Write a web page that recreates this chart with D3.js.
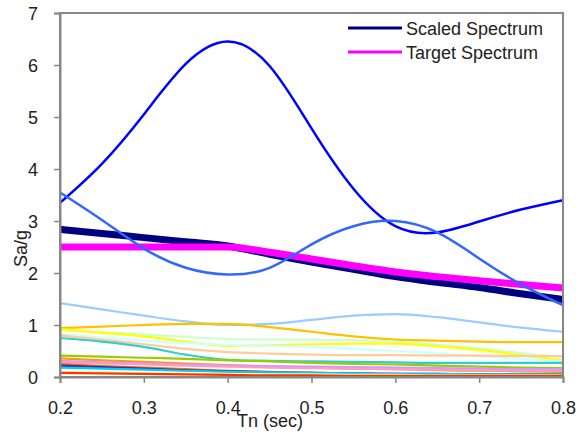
<!DOCTYPE html>
<html>
<head>
<meta charset="utf-8">
<script src="https://cdnjs.cloudflare.com/ajax/libs/d3/7.8.5/d3.min.js"></script>
<style>
    body { margin: 0; background: #fff; }
    svg { font-family: "Liberation Sans", Arial, sans-serif; }
    .tick text { font-size: 18px; fill: #222; }
</style>
</head>
<body>
<svg width="583" height="436"></svg>
<script>
var periods = [0.2, 0.25, 0.3, 0.35, 0.4, 0.45, 0.5, 0.55, 0.6, 0.65, 0.7, 0.75, 0.8];
var xTicks = [0.2, 0.3, 0.4, 0.5, 0.6, 0.7, 0.8];
var yTicks = [0, 1, 2, 3, 4, 5, 6, 7];

// individual records (thin lines)
var recordColors = ["#99CCFF", "#FFC000", "#CCFFCC", "#FFFF00", "#CCFFFF", "#FFCC99", "#33CCCC", "#99CC00",
    "#FF9900", "#CC99FF", "#FF99CC", "#FF6600", "#333399", "#00CCFF", "#FFFF99", "#FF3300"];
var recordValues = [
    [1.42, 1.30, 1.18, 1.07, 1.00, 1.02, 1.10, 1.18, 1.21, 1.15, 1.05, 0.95, 0.87],
    [0.94, 0.97, 1.00, 1.02, 1.02, 0.96, 0.87, 0.78, 0.72, 0.70, 0.68, 0.67, 0.67],
    [0.90, 0.86, 0.82, 0.77, 0.73, 0.72, 0.72, 0.71, 0.68, 0.62, 0.55, 0.46, 0.38],
    [0.92, 0.85, 0.78, 0.68, 0.60, 0.61, 0.63, 0.64, 0.64, 0.59, 0.52, 0.42, 0.32],
    [0.82, 0.76, 0.70, 0.65, 0.62, 0.60, 0.58, 0.54, 0.50, 0.45, 0.40, 0.35, 0.30],
    [0.80, 0.72, 0.63, 0.54, 0.48, 0.45, 0.43, 0.42, 0.42, 0.41, 0.41, 0.40, 0.40],
    [0.75, 0.68, 0.58, 0.43, 0.33, 0.31, 0.30, 0.29, 0.28, 0.27, 0.27, 0.27, 0.27],
    [0.41, 0.39, 0.37, 0.35, 0.32, 0.30, 0.27, 0.25, 0.24, 0.22, 0.20, 0.18, 0.17],
    [0.36, 0.32, 0.29, 0.26, 0.23, 0.20, 0.18, 0.16, 0.15, 0.13, 0.12, 0.11, 0.10],
    [0.31, 0.28, 0.26, 0.24, 0.22, 0.21, 0.20, 0.19, 0.18, 0.17, 0.16, 0.15, 0.15],
    [0.28, 0.26, 0.24, 0.22, 0.20, 0.18, 0.17, 0.16, 0.15, 0.14, 0.13, 0.12, 0.12],
    [0.25, 0.21, 0.18, 0.15, 0.12, 0.10, 0.08, 0.07, 0.06, 0.05, 0.05, 0.04, 0.04],
    [0.22, 0.19, 0.16, 0.13, 0.11, 0.09, 0.08, 0.07, 0.06, 0.06, 0.05, 0.05, 0.05],
    [0.18, 0.16, 0.14, 0.12, 0.10, 0.09, 0.08, 0.07, 0.06, 0.06, 0.05, 0.05, 0.05],
    [0.10, 0.09, 0.08, 0.07, 0.06, 0.05, 0.05, 0.04, 0.04, 0.03, 0.03, 0.03, 0.03],
    [0.08, 0.07, 0.06, 0.05, 0.04, 0.03, 0.03, 0.02, 0.02, 0.02, 0.02, 0.02, 0.02]
];

// the two strong records
var bigRecordColors = ["#0000FF", "#3366FF"];
var bigRecordValues = [
    [3.35, 4.10, 5.05, 6.02, 6.45, 5.98, 4.78, 3.62, 2.90, 2.78, 2.99, 3.22, 3.40],
    [3.55, 3.02, 2.47, 2.10, 1.97, 2.10, 2.55, 2.90, 3.00, 2.78, 2.28, 1.78, 1.38]
];

var scaledSpectrum = [2.84, 2.76, 2.68, 2.60, 2.52, 2.36, 2.21, 2.07, 1.93, 1.82, 1.72, 1.60, 1.49];
var targetSpectrum = [2.50, 2.50, 2.50, 2.50, 2.50, 2.40, 2.27, 2.14, 2.02, 1.93, 1.85, 1.78, 1.71];

var svg = d3.select("svg"),
    margin = {left: 60, top: 13, right: 20, bottom: 59},
    width = 583 - margin.left - margin.right,
    height = 436 - margin.top - margin.bottom,
    g = svg.append("g").attr("transform", "translate(" + margin.left + "," + margin.top + ")");

var x = d3.scaleLinear().domain([0.2, 0.8]).range([0, width]);
var y = d3.scaleLinear().domain([0, 7]).range([height, 0]);

function makeLine(curve) {
    return d3.line()
        .x(function(d, i) { return x(periods[i]); })
        .y(function(d) { return y(d); })
        .curve(curve);
}
var line = makeLine(d3.curveMonotoneX),
    smoothLine = makeLine(d3.curveNatural);

var plot = g.append("g");

recordValues.forEach(function(vals, i) {
    plot.append("path")
        .attr("d", line(vals))
        .attr("fill", "none")
        .attr("stroke", recordColors[i])
        .attr("stroke-width", 2.2);
});

plot.append("path")
    .attr("d", line(scaledSpectrum))
    .attr("fill", "none")
    .attr("stroke", "#000080")
    .attr("stroke-width", 7);

plot.append("path")
    .attr("d", line(targetSpectrum))
    .attr("fill", "none")
    .attr("stroke", "#FF00FF")
    .attr("stroke-width", 7);

bigRecordValues.forEach(function(vals, i) {
    plot.append("path")
        .attr("d", smoothLine(vals))
        .attr("fill", "none")
        .attr("stroke", bigRecordColors[i])
        .attr("stroke-width", 2.5);
});

// frame
g.append("rect")
    .attr("width", width)
    .attr("height", height)
    .attr("fill", "none")
    .attr("stroke", "#878787")
    .attr("stroke-width", 2);

var xAxis = g.append("g")
    .attr("transform", "translate(0," + height + ")")
    .call(d3.axisBottom(x).tickValues(xTicks).tickSize(6).tickPadding(18).tickFormat(d3.format(".1f")));

var yAxis = g.append("g")
    .call(d3.axisLeft(y).tickValues(yTicks).tickSize(6).tickPadding(16).tickFormat(d3.format("d")));

[xAxis, yAxis].forEach(function(ax) {
    ax.select(".domain").attr("stroke", "#878787").attr("stroke-width", 2);
    ax.selectAll(".tick line").attr("stroke", "#878787").attr("stroke-width", 1.5);
    ax.selectAll(".tick text").attr("fill", "#222");
});
yAxis.selectAll(".tick text").attr("dy", "0.36em");

svg.append("text")
    .attr("transform", "translate(27,267) rotate(-90)")
    .attr("font-size", 18)
    .attr("fill", "#222")
    .text("Sa/g");

svg.append("text")
    .attr("x", 237)
    .attr("y", 427)
    .attr("font-size", 18)
    .attr("fill", "#222")
    .text("Tn (sec)");

// legend
var legend = [
    {name: "Scaled Spectrum", color: "#000080", y: 28},
    {name: "Target Spectrum", color: "#FF00FF", y: 52}
];
var lg = svg.append("g");
legend.forEach(function(d) {
    lg.append("line")
        .attr("x1", 348).attr("x2", 402)
        .attr("y1", d.y).attr("y2", d.y)
        .attr("stroke", d.color)
        .attr("stroke-width", 3);
    lg.append("text")
        .attr("x", 406)
        .attr("y", d.y + 6.5)
        .attr("font-size", 18)
        .attr("fill", "#222")
        .text(d.name);
});
</script>
</body>
</html>
